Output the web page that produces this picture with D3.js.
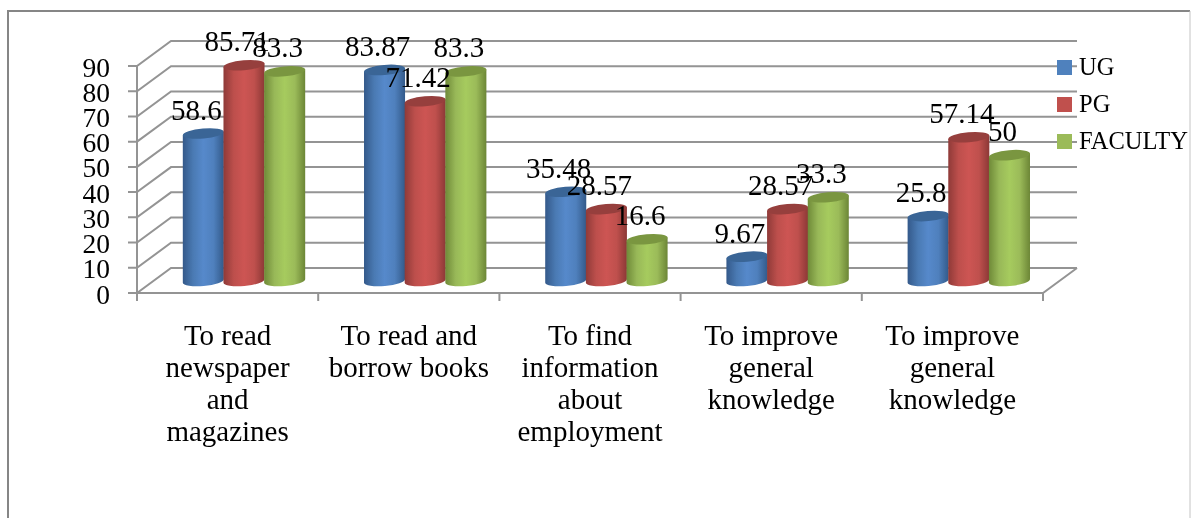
<!DOCTYPE html>
<html><head><meta charset="utf-8">
<script src="https://cdn.jsdelivr.net/npm/d3@7/dist/d3.min.js"></script>
<style>html,body{margin:0;padding:0;background:#fff;overflow:hidden}svg{display:block;filter:blur(.4px)}text{font-family:"Liberation Serif",serif;fill:#000}</style>
</head><body><script>
const categories=[["To read","newspaper","and","magazines"],["To read and","borrow books"],["To find","information","about","employment"],["To improve","general","knowledge"],["To improve","general","knowledge"]];
const seriesNames=["UG","PG","FACULTY"];
const ug=[58.6,83.87,35.48,9.67,25.8];
const pg=[85.71,71.42,28.57,28.57,57.14];
const faculty=[83.3,83.3,16.6,33.3,50];
const yTicks=[0,10,20,30,40,50,60,70,80,90];
const W=1191,H=518;
const svg=d3.select("body").append("svg").attr("width",W).attr("height",H);
const defs=svg.append("defs");
const palette=[
 {id:"b",stops:["#34598a","#4a7ab3","#5689cb","#4f80bd","#335a8a"],top:"#3a6596",sw:"#4f81bd"},
 {id:"r",stops:["#8f3a38","#bd4f4c","#cd5553","#bf504d","#8c3836"],top:"#963f3d",sw:"#c0504d"},
 {id:"g",stops:["#6f8a38","#98b858","#a6cb5e","#9bbb59","#6c8636"],top:"#7a9640",sw:"#9bbb59"}];
palette.forEach(p=>{
 const g=defs.append("linearGradient").attr("id",p.id);
 [0,.25,.5,.75,1].forEach((o,i)=>g.append("stop").attr("offset",o).attr("stop-color",p.stops[i]));
});
const grey="#949494";
svg.append("path").attr("d","M8,518V11H1190").attr("fill","none").attr("stroke","#868686").attr("stroke-width",2);
svg.append("path").attr("d","M1190,11V518").attr("fill","none").attr("stroke","#c4c4c4").attr("stroke-width",1);
const frontLeft=137,frontRight=1043,dx=34,dy=-25;
const y=d3.scaleLinear().domain([0,90]).range([293,66]);
const x=d3.scaleBand().domain(d3.range(categories.length)).range([frontLeft,frontRight]);
const inner=d3.scaleBand().domain(d3.range(3)).range([46,168]);
const barY=d3.scaleLinear().domain([0,90]).range([281,54.5]);
const grid=svg.append("g").attr("fill","none").attr("stroke",grey).attr("stroke-width",2);
yTicks.forEach(t=>{
 grid.append("path").attr("d",`M${frontLeft-9},${y(t)}H${frontLeft}L${frontLeft+dx},${y(t)+dy}H${frontRight+dx}`);
});
grid.append("path").attr("d",`M${frontLeft},${y(90)}V${y(0)}H${frontRight}L${frontRight+dx},${y(0)+dy}`);
d3.range(categories.length+1).forEach(i=>{
 const px=i<categories.length?x(i):frontRight;
 grid.append("path").attr("d",`M${px},${y(0)}V${y(0)+8}`);
});
svg.append("g").selectAll("text").data(yTicks).join("text")
 .attr("x",110).attr("y",d=>y(d)+10.5).attr("text-anchor","end").attr("font-size",27.5).text(d=>d);
const series=[ug,pg,faculty];
const rx=20.6,ry=5,tilt=-5;
const barsG=svg.append("g"),labelsG=svg.append("g");
categories.forEach((c,i)=>{
 series.forEach((s,k)=>{
  const p=palette[k],cx=x(i)+inner(k)+inner.bandwidth()/2,yt=barY(s[i]),yb=barY(0);
  const a=tilt*Math.PI/180,ex=rx*Math.cos(a),ey=rx*Math.sin(a);
  const g=barsG.append("g");
  g.append("path").attr("fill",`url(#${p.id})`)
   .attr("d",`M${cx-ex},${yt-ey}L${cx-ex},${yb-ey}A${rx},${ry},${tilt},0,0,${cx+ex},${yb+ey}L${cx+ex},${yt+ey}Z`);
  g.append("ellipse").attr("cx",cx).attr("cy",yt).attr("rx",rx).attr("ry",ry)
   .attr("transform",`rotate(${tilt} ${cx} ${yt})`).attr("fill",p.top);
  labelsG.append("text").attr("x",cx-7).attr("y",yt-14).attr("text-anchor","middle")
   .attr("font-size",29).text(s[i]);
 });
});
categories.forEach((c,i)=>{
 const t=svg.append("text").attr("text-anchor","middle").attr("font-size",29);
 c.forEach((l,j)=>t.append("tspan").attr("x",x(i)+x.bandwidth()/2).attr("y",345+32*j).text(l));
});
const legendY=d3.scalePoint().domain(seriesNames).range([60,134]);
seriesNames.forEach((n,k)=>{
 svg.append("rect").attr("x",1057).attr("y",legendY(n)).attr("width",15).attr("height",15).attr("fill",palette[k].sw);
 svg.append("text").attr("x",1079).attr("y",legendY(n)+15).attr("font-size",24.5).text(n);
});
</script></body></html>
